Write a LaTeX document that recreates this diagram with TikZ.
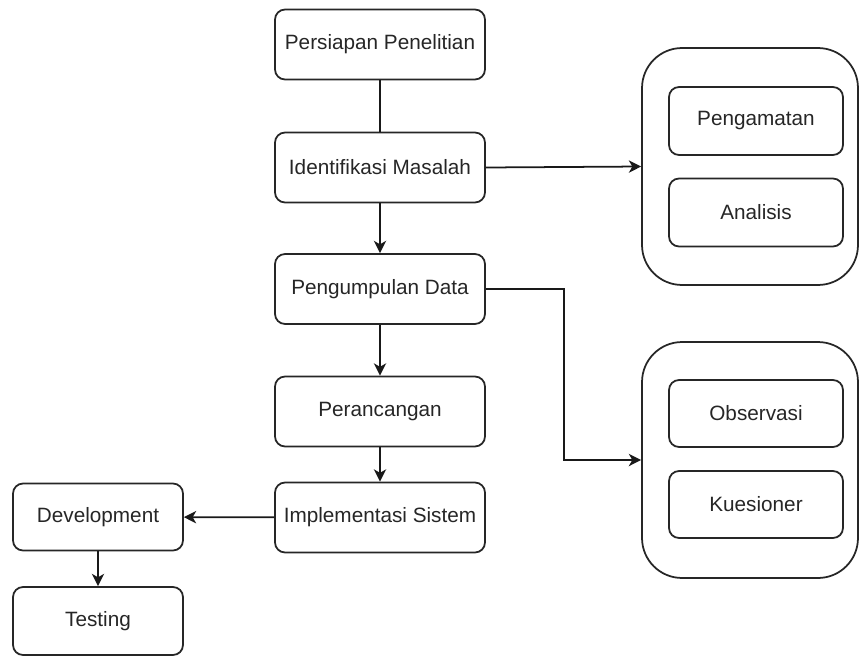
\documentclass[tikz,border=0pt]{standalone}
\usepackage{fontspec}
\setmainfont{Liberation Sans}
\usetikzlibrary{arrows.meta,positioning}

\tikzset{
  langkah/.style={draw=black!85, line width=1pt, rounded corners=0.2cm, align=center,
    minimum width=4.2cm, minimum height=1.4cm, inner sep=0pt, text=black!85,
    font=\fontsize{11.8}{14}\selectfont},
  subbox/.style={langkah, minimum width=3.48cm, minimum height=1.36cm},
  wadah/.style={draw=black!85, line width=1pt, rounded corners=0.8cm,
    minimum width=4.32cm, minimum height=4.72cm, inner sep=0pt},
  alur/.style={line width=1pt, draw=black!90}
}

\begin{document}
\begin{tikzpicture}[x=0.02cm, y=-0.02cm, >={Stealth[length=7pt, width=7pt, inset=2pt]}]
    \useasboundingbox (0,0) rectangle (859,656);
    % main steps
    \node[langkah] (persiapan) at (380,44.5) {Persiapan Penelitian};
    \node[langkah] (identifikasi) at (380,167.5) {Identifikasi Masalah};
    \node[langkah] (pengumpulan) at (380,289) {Pengumpulan Data};
    \node[langkah] (perancangan) at (380,411.5) {Perancangan};
    \node[langkah] (implementasi) at (380,517.5) {Implementasi Sistem};
    \node[langkah, minimum width=3.4cm, minimum height=1.34cm] (development) at (98,517) {Development};
    \node[langkah, minimum width=3.4cm, minimum height=1.36cm] (testing) at (98,621) {Testing};
    % groups on the right
    \node[wadah, minimum height=4.74cm] (wadah1) at (750,166.5) {};
    \node[subbox] (pengamatan) at (756,121) {Pengamatan};
    \node[subbox] (analisis) at (756,212.5) {Analisis};
    \node[wadah] (wadah2) at (750,460) {};
    \node[subbox, minimum height=1.34cm] (observasi) at (756,413.5) {Observasi};
    \node[subbox, minimum height=1.34cm] (kuesioner) at (756,504.5) {Kuesioner};
    % connectors
    \draw[alur] (persiapan) -- (identifikasi);
    \draw[alur, ->] (identifikasi) -- (pengumpulan);
    \draw[alur, ->] (identifikasi.east) -- (wadah1.west);
    \draw[alur, ->] (pengumpulan.east) -- ++(78,0) |- (wadah2.west);
    \draw[alur, ->] (pengumpulan) -- (perancangan);
    \draw[alur, ->] (perancangan) -- (implementasi);
    \draw[alur, ->] (implementasi) -- (development);
    \draw[alur, ->] (development) -- (testing);
\end{tikzpicture}
\end{document}
